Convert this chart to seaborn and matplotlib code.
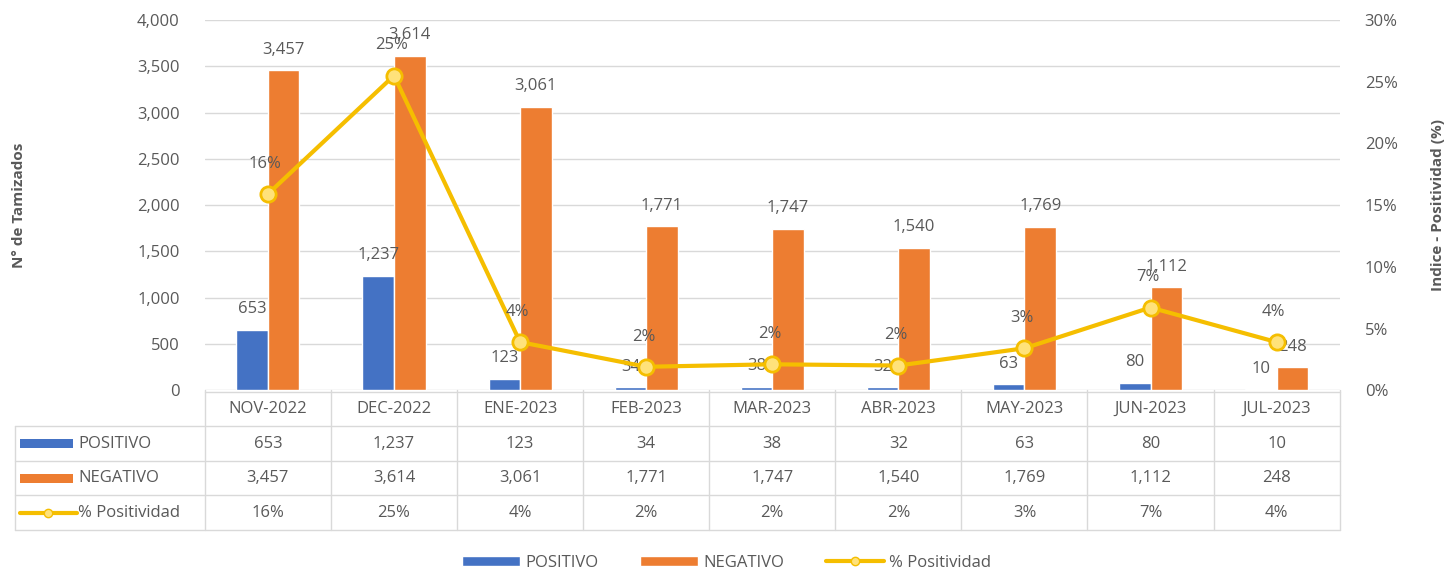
import numpy as np
import pandas as pd
import matplotlib.pyplot as plt
import seaborn as sns
from matplotlib.patches import Patch
from matplotlib.lines import Line2D

meses = ['NOV-2022', 'DEC-2022', 'ENE-2023', 'FEB-2023', 'MAR-2023',
         'ABR-2023', 'MAY-2023', 'JUN-2023', 'JUL-2023']
positivo = [653, 1237, 123, 34, 38, 32, 63, 80, 10]
negativo = [3457, 3614, 3061, 1771, 1747, 1540, 1769, 1112, 248]
positividad = [15.9, 25.5, 3.9, 1.9, 2.1, 2.0, 3.4, 6.7, 3.9]
positividad_txt = ['16%', '25%', '4%', '2%', '2%', '2%', '3%', '7%', '4%']

azul = '#4472C4'
naranja = '#ED7D31'
amarillo = '#F5BE00'
gris = '#595959'

sns.set_theme(style='white')
plt.rcParams['font.family'] = ['Open Sans', 'DejaVu Sans']

df = pd.DataFrame({
    'Mes': meses * 2,
    'Valor': positivo + negativo,
    'Serie': ['POSITIVO'] * len(meses) + ['NEGATIVO'] * len(meses),
})

fig = plt.figure(figsize=(14.53, 5.73), dpi=100)
ax = fig.add_axes([0.141, 0.319, 0.781, 0.646])

sns.barplot(data=df, x='Mes', y='Valor', hue='Serie', order=meses,
            palette={'POSITIVO': azul, 'NEGATIVO': naranja},
            width=0.5, ax=ax, legend=False, saturation=1)

for cont in ax.containers:
    ax.bar_label(cont, labels=[f'{v:,.0f}' for v in cont.datavalues],
                 padding=9, fontsize=12, color=gris)

ax.set_xlim(-0.5, len(meses) - 0.5)
ax.set_ylim(0, 4000)
ax.set_yticks(range(0, 4001, 500))
ax.set_yticklabels([f'{v:,}' for v in range(0, 4001, 500)], fontsize=12, color=gris)
ax.set_xticks([])
ax.set_xlabel('')
ax.set_ylabel('N° de Tamizados', fontsize=11, fontweight='bold', color=gris, labelpad=80)
ax.grid(axis='y', color='#D9D9D9', linewidth=1)
ax.set_axisbelow(True)
for s in ax.spines.values():
    s.set_visible(False)
ax.tick_params(axis='y', length=0, pad=18)

ax2 = ax.twinx()
sns.lineplot(x=np.arange(len(meses)), y=positividad, sort=False, ax=ax2,
             color=amarillo, linewidth=3, marker='o', markersize=11,
             markerfacecolor='#FFE27A', markeredgecolor=amarillo, markeredgewidth=2)
ax2.set_ylim(0, 30)
ax2.set_yticks(range(0, 31, 5))
ax2.set_yticklabels([f'{v}%' for v in range(0, 31, 5)], fontsize=12, color=gris)
ax2.set_ylabel('Indice - Positividad (%)', fontsize=11, fontweight='bold', color=gris,
               labelpad=24, rotation=90)
ax2.tick_params(axis='y', length=0, pad=18)
for s in ax2.spines.values():
    s.set_visible(False)
for i, (v, t) in enumerate(zip(positividad, positividad_txt)):
    ax2.annotate(t, (i, v), xytext=(-2, 16), textcoords='offset points',
                 ha='center', va='bottom', fontsize=12, color=gris)

# data table below the plot
tr = ax.get_xaxis_transform()
row_h = 0.093
y0 = -0.005
lc = '#D9D9D9'
n = len(meses)
left_px = (15 - 205) / 1135 * n - 0.5
rows = [
    ('POSITIVO', [f'{v:,}' for v in positivo]),
    ('NEGATIVO', [f'{v:,}' for v in negativo]),
    ('% Positividad', positividad_txt),
]
# header
for i, m in enumerate(meses):
    ax.text(i, y0 - row_h / 2, m, transform=tr, ha='center', va='center',
            fontsize=12, color=gris, clip_on=False)
for r, (lab, vals) in enumerate(rows):
    yc = y0 - row_h * (r + 1.5)
    for i, v in enumerate(vals):
        ax.text(i, yc, v, transform=tr, ha='center', va='center',
                fontsize=12, color=gris, clip_on=False)
    ax.text(left_px + 0.5, yc, lab, transform=tr, ha='left', va='center',
            fontsize=12, color=gris, clip_on=False)
    if r < 2:
        ax.add_artist(plt.Rectangle((left_px + 0.04, yc - 0.012), 0.42, 0.024,
                                    facecolor=[azul, naranja][r], transform=tr,
                                    clip_on=False, linewidth=0))
    else:
        ax.add_artist(Line2D([left_px + 0.04, left_px + 0.49], [yc, yc], color=amarillo,
                             linewidth=3, transform=tr, clip_on=False))
        ax.add_artist(Line2D([left_px + 0.265], [yc], marker='o', markersize=6,
                             color=amarillo, markerfacecolor='#FFE27A',
                             transform=tr, clip_on=False))
# grid lines of the table
for k in range(n + 1):
    ax.add_artist(Line2D([k - 0.5, k - 0.5], [0, y0 - row_h * 4], color=lc,
                         linewidth=1, transform=tr, clip_on=False))
ax.add_artist(Line2D([left_px, left_px], [y0 - row_h, y0 - row_h * 4], color=lc,
                     linewidth=1, transform=tr, clip_on=False))
for k in range(5):
    x_start = -0.5 if k == 0 else left_px
    yk = y0 - row_h * k
    ax.add_artist(Line2D([x_start, n - 0.5], [yk, yk], color=lc, linewidth=1,
                         transform=tr, clip_on=False))

handles = [
    Patch(facecolor=azul, label='POSITIVO'),
    Patch(facecolor=naranja, label='NEGATIVO'),
    Line2D([0], [0], color=amarillo, linewidth=3, marker='o', markersize=6,
           markerfacecolor='#FFE27A', label='% Positividad'),
]
fig.legend(handles=handles, loc='center', bbox_to_anchor=(0.5, 0.018), ncol=3,
           frameon=False, fontsize=12, labelcolor=gris, handlelength=3.5,
           handleheight=0.5, columnspacing=2.5, handletextpad=0.3)

fig.savefig('out.png', dpi=100)
